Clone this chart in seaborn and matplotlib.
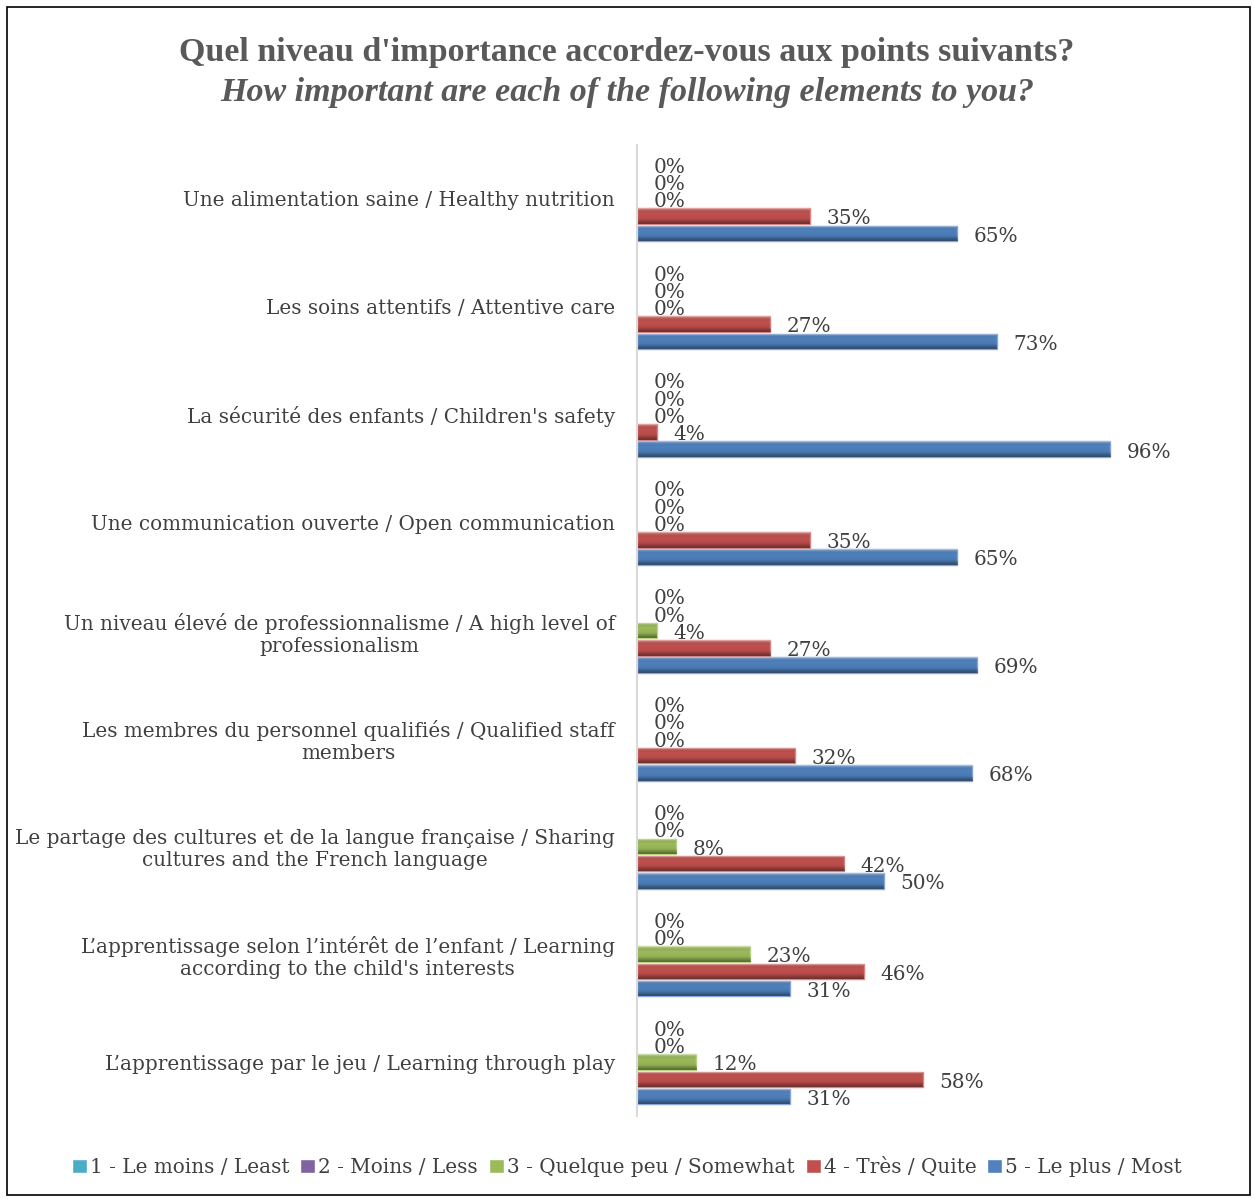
import numpy as np
import pandas as pd
import seaborn as sns
import matplotlib.pyplot as plt
from matplotlib.patches import Rectangle
from matplotlib.colors import LinearSegmentedColormap

# categories (top to bottom)
categories = [
    "Une alimentation saine / Healthy nutrition",
    "Les soins attentifs / Attentive care",
    "La sécurité des enfants / Children's safety",
    "Une communication ouverte / Open communication",
    "Un niveau élevé de professionnalisme / A high level of\nprofessionalism",
    "Les membres du personnel qualifiés / Qualified staff\nmembers",
    "Le partage des cultures et de la langue française / Sharing\ncultures and the French language",
    "L’apprentissage selon l’intérêt de l’enfant / Learning\naccording to the child's interests",
    "L’apprentissage par le jeu / Learning through play",
]

series = ["1 - Le moins / Least", "2 - Moins / Less", "3 - Quelque peu / Somewhat",
          "4 - Très / Quite", "5 - Le plus / Most"]

least = [0, 0, 0, 0, 0, 0, 0, 0, 0]
less = [0, 0, 0, 0, 0, 0, 0, 0, 0]
somewhat = [0, 0, 0, 0, 4, 0, 8, 23, 12]
quite = [35, 27, 4, 35, 27, 32, 42, 46, 58]
most = [65, 73, 96, 65, 69, 68, 50, 31, 31]

colors = ["#4BACC6", "#8064A2", "#9BBB59", "#C0504D", "#4F81BD"]
edges = ["#7fc6da", "#a58fc0", "#bcd68a", "#dc8482", "#86a8d8"]

rows = []
for s, vals in zip(series, [least, less, somewhat, quite, most]):
    for c, v in zip(categories, vals):
        rows.append({"cat": c, "series": s, "val": v})
df = pd.DataFrame(rows)

sns.set_style("white")
plt.rcParams["font.family"] = ["DejaVu Serif"]
txt = "#404040"
lbl_size = 14.4

fig = plt.figure(figsize=(12.54, 11.99), dpi=100)
ax = fig.add_axes([637 / 1254, 1 - 1116 / 1199, 493 / 1254, (1116 - 145) / 1199])

sns.barplot(data=df, y="cat", x="val", hue="series", hue_order=series,
            palette=colors, orient="h", width=0.8, gap=0.1, ax=ax,
            saturation=1, legend=True)

# bevel-like shading: light top edge, darker bottom
shade = LinearSegmentedColormap.from_list(
    "shade", [(1, 1, 1, 0.3), (0, 0, 0, 0), (0, 0, 0, 0.05), (0, 0, 0, 0.45)])
grad = np.linspace(0, 1, 32).reshape(-1, 1)

for cont, ec in zip(ax.containers, edges):
    for p in cont:
        w = p.get_width()
        y0, h = p.get_y(), p.get_height()
        if w > 0:
            p.set_edgecolor(ec)
            p.set_linewidth(1.0)
            im = ax.imshow(grad, cmap=shade, aspect="auto", interpolation="bilinear",
                           extent=(0, w, y0 + h, y0), zorder=p.get_zorder() + 0.1)
            im.set_clip_path(p)
        else:
            p.set_linewidth(0)
        ax.annotate(f"{w:.0f}%", (w, y0 + h / 2), xytext=(12, -2), textcoords="offset points",
                    ha="left", va="center", fontsize=lbl_size, color=txt, annotation_clip=False)

ax.set_xlim(0, 100)
ax.set_ylim(len(categories) - 0.5, -0.5)
ax.set_xlabel("")
ax.set_ylabel("")
ax.set_xticks([])
for s in ["top", "right", "bottom"]:
    ax.spines[s].set_visible(False)
ax.spines["left"].set_color("#d9d9d9")
ax.spines["left"].set_linewidth(1.5)
ax.tick_params(axis="y", length=0, pad=16, labelsize=lbl_size, labelcolor=txt)
for t in ax.get_yticklabels():
    t.set_multialignment("center")

handles, labels = ax.get_legend_handles_labels()
ax.get_legend().remove()
fig.legend(handles, labels, loc="center", bbox_to_anchor=(0.5, 1 - 1167 / 1199), ncol=5,
           frameon=False, fontsize=lbl_size, handlelength=0.75, handleheight=0.75,
           handletextpad=0.15, columnspacing=0.55, labelcolor=txt)

fig.text(0.5, 1 - 52 / 1199, "Quel niveau d'importance accordez-vous aux points suivants?",
         ha="center", va="center", fontsize=24.5, fontweight="bold", color="#595959",
         family="Liberation Serif")
fig.text(0.5, 1 - 93 / 1199, "How important are each of the following elements to you?",
         ha="center", va="center", fontsize=24.5, fontweight="bold", fontstyle="italic",
         color="#595959", family="Liberation Serif")

fig.patches.append(Rectangle((7 / 1254, 4 / 1199), 1 - 11 / 1254, 1 - 11 / 1199,
                             transform=fig.transFigure, fill=False, edgecolor="#000000",
                             linewidth=1.2))

fig.savefig("out.png", dpi=100)
